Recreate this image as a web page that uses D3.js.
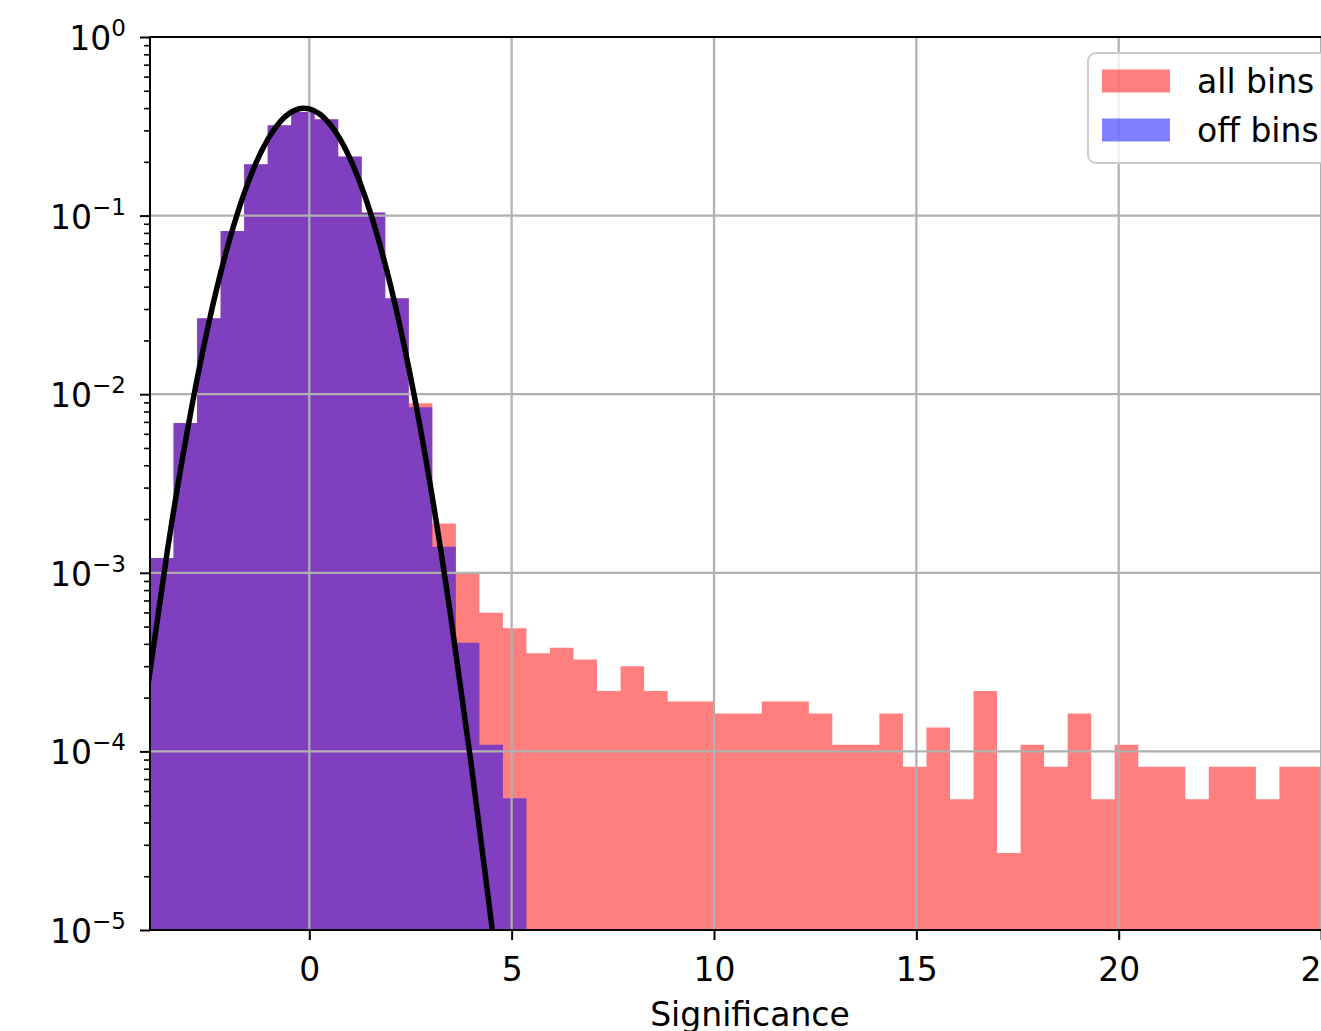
<!DOCTYPE html>
<html lang="en">
<head>
<meta charset="utf-8">
<title>Significance histogram</title>
<script src="https://cdn.jsdelivr.net/npm/d3@7"></script>
<style>
body { margin: 0; background: #fff; }
svg { display: block; font-family: "DejaVu Sans", sans-serif; }
</style>
</head>
<body>
<svg id="chart" width="1321" height="1031"></svg>
<script>
// 50 equal-width bins, normalised densities
var binLo = -3.936, binHi = 25.134, binCount = 50;
var allBins = [
  1.21e-3, 6.9e-3, 2.66e-2, 8.2e-2, 0.194, 0.321, 0.38, 0.346, 0.214, 0.104,
  3.44e-2, 8.9e-3, 1.89e-3, 9.85e-4, 5.98e-4, 4.9e-4, 3.54e-4, 3.81e-4, 3.27e-4, 2.18e-4,
  3.0e-4, 2.18e-4, 1.9e-4, 1.9e-4, 1.63e-4, 1.63e-4, 1.9e-4, 1.9e-4, 1.63e-4, 1.09e-4,
  1.09e-4, 1.63e-4, 8.2e-5, 1.36e-4, 5.4e-5, 2.18e-4, 2.7e-5, 1.09e-4, 8.2e-5, 1.63e-4,
  5.4e-5, 1.09e-4, 8.2e-5, 8.2e-5, 5.4e-5, 8.2e-5, 8.2e-5, 5.4e-5, 8.2e-5, 8.2e-5
];
var offBins = [
  1.21e-3, 6.9e-3, 2.66e-2, 8.2e-2, 0.194, 0.321, 0.38, 0.346, 0.214, 0.104,
  3.44e-2, 8.45e-3, 1.40e-3, 4.06e-4, 1.09e-4, 5.46e-5, 0, 0, 0, 0,
  0, 0, 0, 0, 0, 0, 0, 0, 0, 0,
  0, 0, 0, 0, 0, 0, 0, 0, 0, 0,
  0, 0, 0, 0, 0, 0, 0, 0, 0, 0
];
// gaussian fit curve
var fitX = [-4, -3.5, -3, -2.5, -2, -1.5, -1, -0.5, 0, 0.5, 1, 1.5, 2, 2.5, 3, 3.5, 4, 4.5, 5];
var fitY = [2.23e-4, 1.36e-3, 6.49e-3, 2.41e-2, 6.94e-2, 0.156, 0.273, 0.3725, 0.3955, 0.327,
            0.2107, 0.1057, 4.13e-2, 1.26e-2, 3.0e-3, 5.6e-4, 8.5e-5, 1.1e-5, 1.2e-6];

var xTicks = [0, 5, 10, 15, 20, 25];
var yTicks = [1e-5, 1e-4, 1e-3, 1e-2, 1e-1, 1];
var yTickExp = ["\u22125", "\u22124", "\u22123", "\u22122", "\u22121", "0"];
var seriesNames = ["all bins", "off bins"];
var seriesColors = ["#ff0000", "#0000ff"];
var xLabel = "Significance";

var plotL = 150, plotR = 1350, plotT = 37, plotB = 930;
var svg = d3.select("#chart");

var x = d3.scaleLinear().domain([binLo, 25.715]).range([plotL, plotR]);
var y = d3.scaleLog().domain([1e-5, 1]).range([plotB, plotT]);

svg.append("clipPath").attr("id", "plot")
  .append("rect")
  .attr("x", plotL).attr("y", plotT)
  .attr("width", plotR - plotL).attr("height", plotB - plotT);

// each histogram as one stepped area, so neighbouring bins leave no seams
var binW = (binHi - binLo) / binCount;
var area = d3.area()
  .x(function(d) { return x(d[0]); })
  .y0(plotB)
  .y1(function(d) { return d[1] > 0 ? y(d[1]) : plotB; })
  .curve(d3.curveStepAfter);
function drawHist(values, color) {
  var pts = values.map(function(v, i) { return [binLo + i * binW, v]; });
  pts.push([binHi, values[values.length - 1]]);
  svg.append("path")
    .attr("clip-path", "url(#plot)")
    .datum(pts)
    .attr("d", area)
    .attr("fill", color)
    .attr("fill-opacity", 0.5);
}
drawHist(allBins, seriesColors[0]);
drawHist(offBins, seriesColors[1]);

// grid
var grid = svg.append("g").attr("stroke", "#b0b0b0").attr("stroke-width", 2.2);
grid.selectAll(".gx").data(xTicks).enter().append("line")
  .attr("x1", function(d) { return x(d); }).attr("x2", function(d) { return x(d); })
  .attr("y1", plotT).attr("y2", plotB);
grid.selectAll(".gy").data(yTicks).enter().append("line")
  .attr("x1", plotL).attr("x2", plotR)
  .attr("y1", function(d) { return y(d); }).attr("y2", function(d) { return y(d); });

// fit curve
var line = d3.line()
  .x(function(d) { return x(d[0]); })
  .y(function(d) { return y(d[1]); })
  .curve(d3.curveNatural);
svg.append("path")
  .attr("clip-path", "url(#plot)")
  .datum(fitX.map(function(v, i) { return [v, fitY[i]]; }))
  .attr("d", line)
  .attr("fill", "none")
  .attr("stroke", "#000")
  .attr("stroke-width", 5.5);

// axes
var xAxis = svg.append("g")
  .attr("transform", "translate(0," + plotB + ")")
  .call(d3.axisBottom(x).tickValues(xTicks).tickSize(10).tickPadding(18).tickFormat(d3.format("d")));
xAxis.select(".domain").remove();
xAxis.selectAll("line").attr("stroke-width", 2);
xAxis.selectAll("text").attr("font-size", 33).attr("font-family", "DejaVu Sans").attr("fill", "#000");

var minor = [];
for (var e = -5; e < 0; e++) for (var m = 2; m < 10; m++) minor.push(m * Math.pow(10, e));
var yMinor = svg.append("g")
  .attr("transform", "translate(" + plotL + ",0)")
  .call(d3.axisLeft(y).tickValues(minor).tickSize(6).tickFormat(""));
yMinor.select(".domain").remove();
yMinor.selectAll("line").attr("stroke-width", 1.6);

var yAxis = svg.append("g")
  .attr("transform", "translate(" + plotL + ",0)")
  .call(d3.axisLeft(y).tickValues(yTicks).tickSize(10).tickFormat(""));
yAxis.select(".domain").remove();
yAxis.selectAll("line").attr("stroke-width", 2);

var yLab = svg.append("g").selectAll("text").data(yTicks).enter().append("text")
  .attr("x", 126)
  .attr("y", function(d) { return y(d) + 13; })
  .attr("text-anchor", "end")
  .attr("font-size", 33)
  .attr("fill", "#000");
yLab.append("tspan").text("10");
yLab.append("tspan").attr("dy", -14).attr("font-size", 23)
  .text(function(d, i) { return yTickExp[i]; });

// spines
svg.append("rect")
  .attr("x", plotL).attr("y", plotT)
  .attr("width", plotR - plotL).attr("height", plotB - plotT)
  .attr("fill", "none").attr("stroke", "#000").attr("stroke-width", 2);

svg.append("text")
  .attr("x", (plotL + plotR) / 2)
  .attr("y", 1026)
  .attr("text-anchor", "middle")
  .attr("font-size", 33)
  .text(xLabel);

// legend
var legend = svg.append("g");
legend.append("rect")
  .attr("x", 1088).attr("y", 53).attr("width", 252).attr("height", 110)
  .attr("rx", 8)
  .attr("fill", "#fff").attr("fill-opacity", 0.8)
  .attr("stroke", "#cccccc").attr("stroke-width", 2);
var items = legend.selectAll(".item").data(seriesNames).enter().append("g")
  .attr("transform", function(d, i) { return "translate(0," + (i * 49) + ")"; });
items.append("rect")
  .attr("x", 1102).attr("y", 69.5).attr("width", 68).attr("height", 23)
  .attr("fill", function(d, i) { return seriesColors[i]; })
  .attr("fill-opacity", 0.5);
items.append("text")
  .attr("x", 1197).attr("y", 93)
  .attr("font-size", 33)
  .text(function(d) { return d; });
</script>
</body>
</html>
